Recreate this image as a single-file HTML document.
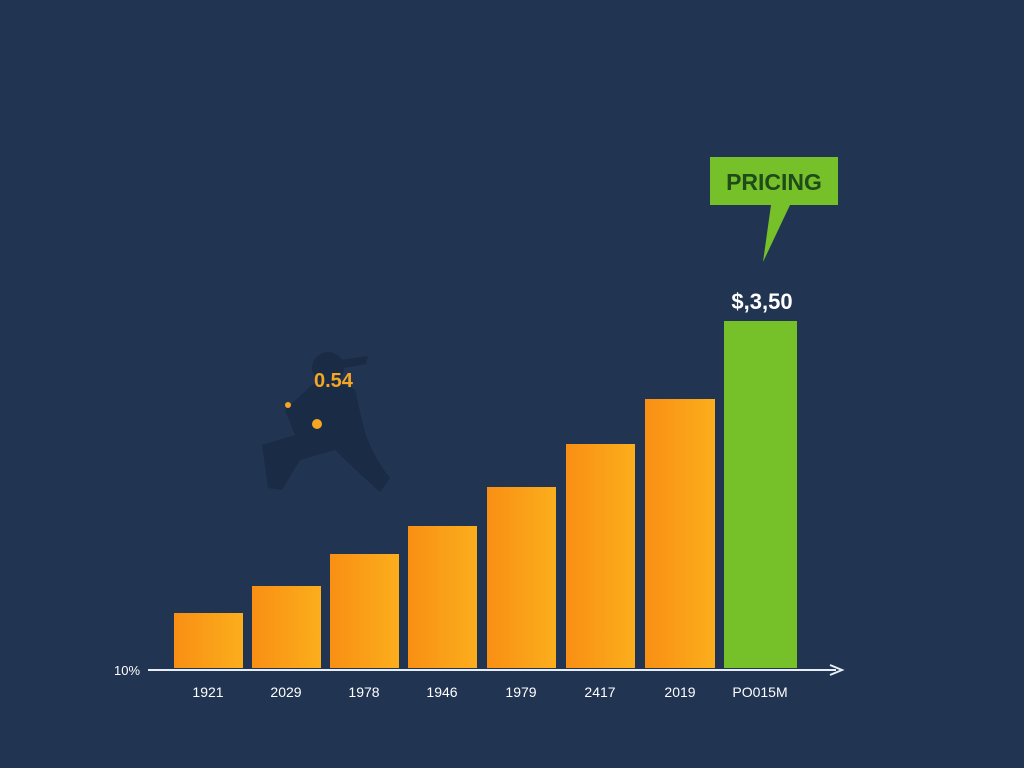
<!DOCTYPE html>
<html><head><meta charset="utf-8"><style>
body{margin:0;width:1024px;height:768px;background:#213452;overflow:hidden}
svg{display:block}
text{font-family:"Liberation Sans",sans-serif}
</style></head><body>
<svg width="1024" height="768" viewBox="0 0 1024 768">
<defs>
<linearGradient id="g" x1="0" x2="1" y1="0" y2="0">
<stop offset="0" stop-color="#f98f14"/><stop offset="1" stop-color="#fbae1c"/>
</linearGradient>
</defs>
<rect width="1024" height="768" fill="#213452"/>
<!-- silhouette -->
<g fill="#1a2b45">
<ellipse cx="328" cy="368" rx="16" ry="16"/>
<path d="M312 385 Q335 375 355 390 L362 420 Q368 450 390 478 L380 492 Q350 465 335 450 L300 460 L282 490 L268 488 L262 445 L295 435 L285 410 Z"/>
<path d="M340 360 L368 356 L366 364 L345 368 Z"/>
</g>
<circle cx="288" cy="405" r="3" fill="#f5a623"/>
<circle cx="317" cy="424" r="5" fill="#f5a623"/>
<text x="314" y="387" font-size="20" font-weight="bold" fill="#f5a623">0.54</text>
<!-- bars -->
<rect x="174" y="613" width="69" height="55" fill="url(#g)"/>
<rect x="252" y="586" width="69" height="82" fill="url(#g)"/>
<rect x="330" y="554" width="69" height="114" fill="url(#g)"/>
<rect x="408" y="526" width="69" height="142" fill="url(#g)"/>
<rect x="487" y="487" width="69" height="181" fill="url(#g)"/>
<rect x="566" y="444" width="69" height="224" fill="url(#g)"/>
<rect x="645" y="399" width="70" height="269" fill="url(#g)"/>
<rect x="724" y="321" width="73" height="347" fill="#76c12a"/>
<!-- axis -->
<line x1="148" y1="670" x2="836" y2="670" stroke="#e8eef5" stroke-width="2"/>
<path d="M830 665 L842 670 L830 675" fill="none" stroke="#e8eef5" stroke-width="2"/>
<text x="114" y="675" font-size="13" fill="#ffffff">10%</text>
<g font-size="14" fill="#ffffff" text-anchor="middle">
<text x="208" y="697">1921</text>
<text x="286" y="697">2029</text>
<text x="364" y="697">1978</text>
<text x="442" y="697">1946</text>
<text x="521" y="697">1979</text>
<text x="600" y="697">2417</text>
<text x="680" y="697">2019</text>
<text x="760" y="697">PO015M</text>
</g>
<!-- callout -->
<path d="M710 157 H838 V205 H790 L763 262 L771 205 H710 Z" fill="#76c12a"/>
<text x="774" y="190" font-size="23" font-weight="bold" fill="#1f4a1a" text-anchor="middle">PRICING</text>
<text x="762" y="309" font-size="22" font-weight="bold" fill="#ffffff" text-anchor="middle">$,3,50</text>
</svg>
</body></html>
